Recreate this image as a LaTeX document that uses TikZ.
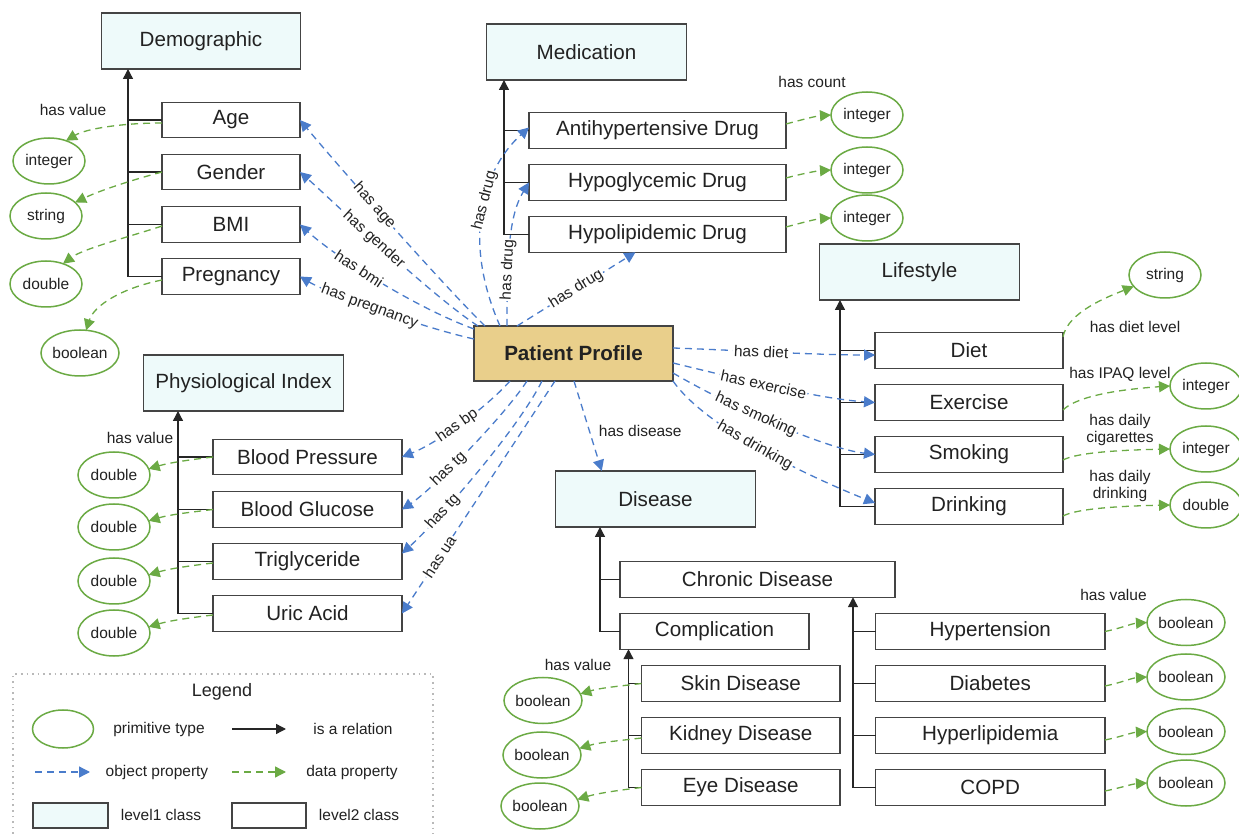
\documentclass[tikz,border=0pt]{standalone}
\usepackage{fontspec}
\setmainfont{Liberation Sans}
\usetikzlibrary{arrows.meta,calc,shapes.geometric}
\definecolor{lvlonefill}{HTML}{EEFAFA}
\definecolor{boxline}{HTML}{444444}
\definecolor{ppfill}{HTML}{E9CF8B}
\definecolor{objblue}{HTML}{4A7CCB}
\definecolor{datgreen}{HTML}{6BAA44}
\definecolor{txt}{HTML}{222222}
\begin{document}
\begin{tikzpicture}[x=0.5pt,y=-0.5pt,
  every node/.style={text=txt},
  txtbig/.style={font=\fontsize{10.3}{12}\selectfont},
  txtsmall/.style={font=\fontsize{7.75}{8.25}\selectfont},
  cls/.style={txtbig, draw=boxline, line width=0.7pt, inner sep=0pt, outer sep=0pt},
  lvlone/.style={cls, fill=lvlonefill, minimum width=99.75pt, minimum height=28pt},
  lvltwo/.style={cls, fill=white, minimum height=17.75pt, minimum width=#1},
  prim/.style={txtsmall, ellipse, draw=datgreen, line width=0.75pt, fill=white, inner sep=0pt, outer sep=0pt, minimum width=36pt, minimum height=23pt},
  note/.style={txtsmall, inner sep=0pt, align=center},
  isa/.style={draw=black!85, line width=0.7pt, -{Triangle[length=5pt,width=5pt]}},
  branch/.style={draw=black!85, line width=0.7pt},
  objp/.style={draw=objblue, line width=0.65pt, dash pattern=on 3.5pt off 2.5pt, -{Triangle[length=5.5pt,width=5.5pt]}},
  datap/.style={draw=datgreen, line width=0.65pt, dash pattern=on 3.5pt off 2.5pt, -{Triangle[length=5.5pt,width=5.5pt]}},
  elab/.style={txtsmall, fill=white, inner sep=0.6pt, sloped}
]
\useasboundingbox (0,0) rectangle (1239,834);
\fill[white] (0,0) rectangle (1239,834);

% ---------- Demographic ----------
\node[lvlone] (demo) at (201,41) {Demographic};
\node[lvltwo=69pt] (age) at (231,120) {Age};
\node[lvltwo=69pt] (gender) at (231,172) {Gender};
\node[lvltwo=69pt] (bmi) at (231,224.5) {BMI};
\node[lvltwo=69pt] (preg) at (231,276.5) {Pregnancy};
\node[prim] (int1) at (49,161) {integer};
\node[prim] (str1) at (46,216) {string};
\node[prim] (dbl1) at (46,284) {double};
\node[prim] (bool1) at (80,353) {boolean};
\node[note] (hv1) at (73,110) {has value};

\coordinate (demT) at (128,276.5);
\draw[isa] (preg.west) -- (demT) -- (demT |- demo.south);
\foreach \n in {age,gender,bmi} \draw[branch] (\n.west) -- (\n.west -| demT);

\draw[datap] ($(age.west)+(0,3)$) .. controls +(-40,0) and +(20,-12) .. (int1.50);
\draw[datap] (gender.west) .. controls +(-30,8) and +(25,-12) .. (str1.25);
\draw[datap] ($(bmi.west)+(0,1.5)$) .. controls +(-30,10) and +(20,-15) .. (dbl1.50);
\draw[datap] ($(preg.west)+(0,3.5)$) .. controls +(-40,8) and +(8,-25) .. (bool1.75);

% ---------- Medication ----------
\node[lvlone] (med) at (586.5,52) {Medication};
\node[lvltwo=128.5pt] (anti) at (657.5,130.5) {Antihypertensive Drug};
\node[lvltwo=128.5pt] (hypog) at (657.5,182.5) {Hypoglycemic Drug};
\node[lvltwo=128.5pt] (hypol) at (657.5,234.5) {Hypolipidemic Drug};
\node[prim] (int2) at (867,115) {integer};
\node[prim] (int3) at (867,170) {integer};
\node[prim] (int4) at (867,218) {integer};
\node[note] (hc) at (812,82) {has count};

\coordinate (medT) at (504,234.5);
\draw[isa] (hypol.west) -- (medT) -- (medT |- med.south);
\foreach \n in {anti,hypog} \draw[branch] (\n.west) -- (\n.west -| medT);

\draw[datap] ($(anti.east)+(0,-6.5)$) .. controls +(15,-4) and +(-15,1) .. (int2.west);
\draw[datap] ($(hypog.east)+(0,-4.5)$) .. controls +(15,-4) and +(-15,1) .. (int3.west);
\draw[datap] ($(hypol.east)+(0,-7.5)$) .. controls +(15,-4) and +(-15,1) .. (int4.west);

% ---------- Lifestyle ----------
\node[lvlone] (life) at (919.5,272) {Lifestyle};
\node[lvltwo=94pt] (diet) at (969,350.5) {Diet};
\node[lvltwo=94pt] (exer) at (969,402.5) {Exercise};
\node[lvltwo=94pt] (smok) at (969,454.5) {Smoking};
\node[lvltwo=94pt] (drink) at (969,506.5) {Drinking};
\node[prim] (str2) at (1165,275) {string};
\node[prim] (int5) at (1206,386) {integer};
\node[prim] (int6) at (1206,449) {integer};
\node[prim] (dbl2) at (1206,505) {double};
\node[note] (hdl) at (1135,327) {has diet level};
\node[note] (hipaq) at (1120,374) {has IPAQ level};
\node[note] (hdc) at (1120,430) {has daily\\cigarettes};
\node[note] (hdd) at (1120,486) {has daily\\drinking};

\coordinate (lifT) at (840,506.5);
\draw[isa] (drink.west) -- (lifT) -- (lifT |- life.south);
\foreach \n in {diet,exer,smok} \draw[branch] (\n.west) -- (\n.west -| lifT);

\draw[datap] ($(diet.north east)+(0,4)$) .. controls +(5,-25) and +(-25,10) .. (str2.200);
\draw[datap] ($(exer.east)+(0,7.5)$) .. controls +(15,-15) and +(-45,3) .. (int5.west);
\draw[datap] ($(smok.east)+(0,5.5)$) .. controls +(15,-8) and +(-45,1) .. (int6.west);
\draw[datap] ($(drink.east)+(0,9.5)$) .. controls +(15,-8) and +(-45,1) .. (dbl2.west);

% ---------- Physiological Index ----------
\node[lvlone] (phys) at (243.5,383) {Physiological Index};
\node[lvltwo=94.5pt] (bp) at (307.5,457) {Blood Pressure};
\node[lvltwo=94.5pt] (bg) at (307.5,509.5) {Blood Glucose};
\node[lvltwo=94.5pt] (tri) at (307.5,561.5) {Triglyceride};
\node[lvltwo=94.5pt] (ua) at (307.5,613.5) {Uric Acid};
\node[prim] (dbl3) at (114,475) {double};
\node[prim] (dbl4) at (114,527) {double};
\node[prim] (dbl5) at (114,581) {double};
\node[prim] (dbl6) at (114,633) {double};
\node[note] (hv2) at (140,438) {has value};

\coordinate (phyT) at (178,613.5);
\draw[isa] (ua.west) -- (phyT) -- (phyT |- phys.south);
\foreach \n in {bp,bg,tri} \draw[branch] (\n.west) -- (\n.west -| phyT);

\draw[datap] (bp.west) .. controls +(-25,3) and +(20,-6) .. (dbl3.10);
\draw[datap] (bg.west) .. controls +(-25,3) and +(20,-6) .. (dbl4.10);
\draw[datap] ($(tri.west)+(0,1.5)$) .. controls +(-25,3) and +(20,-6) .. (dbl5.10);
\draw[datap] ($(ua.west)+(0,1.5)$) .. controls +(-25,3) and +(20,-6) .. (dbl6.10);

% ---------- Disease ----------
\node[lvlone] (dis) at (655.5,499) {Disease};
\node[lvltwo=137.5pt] (chron) at (757.5,579.5) {Chronic Disease};
\node[lvltwo=94.5pt] (comp) at (714.5,631.5) {Complication};
\node[lvltwo=99.25pt] (skin) at (740.75,683.5) {Skin Disease};
\node[lvltwo=99.25pt] (kid) at (740.75,735.5) {Kidney Disease};
\node[lvltwo=99.25pt] (eye) at (740.75,787.5) {Eye Disease};
\node[lvltwo=114.75pt] (hyp) at (990.25,631.5) {Hypertension};
\node[lvltwo=114.75pt] (diab) at (990.25,683.5) {Diabetes};
\node[lvltwo=114.75pt] (hlip) at (990.25,735.5) {Hyperlipidemia};
\node[lvltwo=114.75pt] (copd) at (990.25,787.5) {COPD};
\node[prim] (bL1) at (543,700.5) {boolean};
\node[prim] (bL2) at (542,755) {boolean};
\node[prim] (bL3) at (540,806) {boolean};
\node[prim] (bR1) at (1186,622.5) {boolean};
\node[prim] (bR2) at (1186,677) {boolean};
\node[prim] (bR3) at (1186,731.5) {boolean};
\node[prim] (bR4) at (1186,783) {boolean};
\node[note] (hv3) at (578,665) {has value};
\node[note] (hv4) at (1113.5,595) {has value};

\coordinate (disT) at (600,631.5);
\draw[isa] (comp.west) -- (disT) -- (disT |- dis.south);
\draw[branch] (chron.west) -- (chron.west -| disT);
\coordinate (cmpT) at (628.5,787.5);
\draw[isa] (eye.west) -- (cmpT) -- (cmpT |- comp.south);
\foreach \n in {skin,kid} \draw[branch] (\n.west) -- (\n.west -| cmpT);
\coordinate (chrT) at (853,787.5);
\draw[isa] (copd.west) -- (chrT) -- (chrT |- chron.south);
\foreach \n in {hyp,diab,hlip} \draw[branch] (\n.west) -- (\n.west -| chrT);

\draw[datap] (skin.west) .. controls +(-25,3) and +(20,-6) .. (bL1.10);
\draw[datap] ($(kid.west)+(0,2.5)$) .. controls +(-25,3) and +(20,-6) .. (bL2.10);
\draw[datap] (eye.west) .. controls +(-25,3) and +(20,-6) .. (bL3.10);
\draw[datap] (hyp.east) .. controls +(15,-3) and +(-15,1) .. (bR1.west);
\draw[datap] ($(diab.east)+(0,2.5)$) .. controls +(15,-3) and +(-15,1) .. (bR2.west);
\draw[datap] ($(hlip.east)+(0,4.5)$) .. controls +(15,-3) and +(-15,1) .. (bR3.west);
\draw[datap] ($(copd.east)+(0,3.5)$) .. controls +(15,-3) and +(-15,1) .. (bR4.west);

% ---------- Patient Profile and object properties ----------
\node[draw=boxline, fill=ppfill, line width=0.7pt, inner sep=0pt, outer sep=0pt,
      minimum width=99.5pt, minimum height=27.5pt,
      font=\fontsize{10.3}{12}\selectfont\bfseries] (pp) at (573.5,353.5) {Patient Profile};

\draw[objp] ($(pp.north west)+(11,0)$) .. controls +(-43,-42) and +(40,48) .. (age.east)
  node[elab,pos=0.58] {has age};
\draw[objp] ($(pp.north west)+(4,0)$) .. controls +(-50,-33) and +(36,32) .. (gender.east)
  node[elab,pos=0.55] {has gender};
\draw[objp] ($(pp.north west)+(0,3)$) .. controls +(-60,-22) and +(35,32) .. (bmi.east)
  node[elab,pos=0.6] {has bmi};
\draw[objp] ($(pp.north west)+(0,13)$) .. controls +(-50,-11) and +(30,18) .. (preg.east)
  node[elab,pos=0.55] {has pregnancy};

\draw[objp] ($(pp.north west)+(26,0)$) .. controls +(-38,-86) and +(-47,42.5) .. ($(anti.west)+(0,-3)$)
  node[elab,pos=0.55] {has drug};
\draw[objp] ($(pp.north west)+(33,0)$) .. controls +(0,-71) and +(-20,32.5) .. (hypog.west)
  node[elab,pos=0.3] {has drug};
\draw[objp] ($(pp.north west)+(43,0)$) -- ($(hypol.south)+(-22,0)$)
  node[elab,pos=0.5] {has drug};

\draw[objp] ($(pp.north east)+(0,22)$) .. controls +(60,2) and +(-60,0) .. ($(diet.west)+(0,4.5)$)
  node[elab,pos=0.44] {has diet};
\draw[objp] ($(pp.north east)+(0,37)$) .. controls +(50,12) and +(-60,-4) .. (exer.west)
  node[elab,pos=0.47] {has exercise};
\draw[objp] ($(pp.north east)+(0,47)$) .. controls +(60,35) and +(-50,-6) .. (smok.west)
  node[elab,pos=0.4] {has smoking};
\draw[objp] (pp.south east) .. controls +(35,50) and +(-55,-22) .. ($(drink.west)+(0,-3.5)$)
  node[elab,pos=0.45] {has drinking};

\draw[objp] ($(pp.south west)+(36,0)$) .. controls +(-25,28) and +(35,-14) .. (bp.east)
  node[elab,pos=0.52] {has bp};
\draw[objp] ($(pp.south west)+(53,0)$) .. controls +(-25,38) and +(30,-20) .. (bg.east)
  node[elab,pos=0.62] {has tg};
\draw[objp] ($(pp.south west)+(68,0)$) .. controls +(-25,50) and +(35,-32) .. ($(tri.east)+(0,-8)$)
  node[elab,pos=0.7] {has tg};
\draw[objp] ($(pp.south west)+(81,0)$) -- (ua.east)
  node[elab,pos=0.755] {has ua};

\draw[objp] ($(pp.south west)+(100,0)$) -- ($(dis.north west)+(46,0)$)
  node[txtsmall,pos=0.55,anchor=west,xshift=4.5pt,inner sep=0pt] {has disease};

% ---------- Legend ----------
\draw[gray!55, dotted, line width=0.8pt] (13,834) -- (13,674) -- (433,674) -- (433,834);
\node[font=\fontsize{9}{11}\selectfont, inner sep=0pt] (lgTitle) at (222,692) {Legend};
\node[prim, minimum width=30.5pt, minimum height=19pt] (lgEll) at (63,729) {};
\node[note] (lgPrim) at (159,729) {primitive type};
\coordinate (lgA1) at (232,729);
\coordinate (lgA2) at (286,729);
\draw[isa] (lgA1) -- (lgA2);
\node[note] (lgIsa) at (353,729) {is a relation};
\coordinate (lgB1) at (35,772);
\coordinate (lgB2) at (90,772);
\draw[objp] (lgB1) -- (lgB2);
\node[note] (lgObj) at (157,772) {object property};
\coordinate (lgC1) at (232,772);
\coordinate (lgC2) at (286,772);
\draw[datap] (lgC1) -- (lgC2);
\node[note] (lgDat) at (352,772) {data property};
\node[cls, fill=lvlonefill, minimum width=37.5pt, minimum height=12.5pt] (lgL1) at (70.5,815.5) {};
\node[note] (lgL1t) at (161,815) {level1 class};
\node[cls, fill=white, minimum width=37pt, minimum height=12.5pt] (lgL2) at (269,815.5) {};
\node[note] (lgL2t) at (359,815) {level2 class};
\end{tikzpicture}
\end{document}
